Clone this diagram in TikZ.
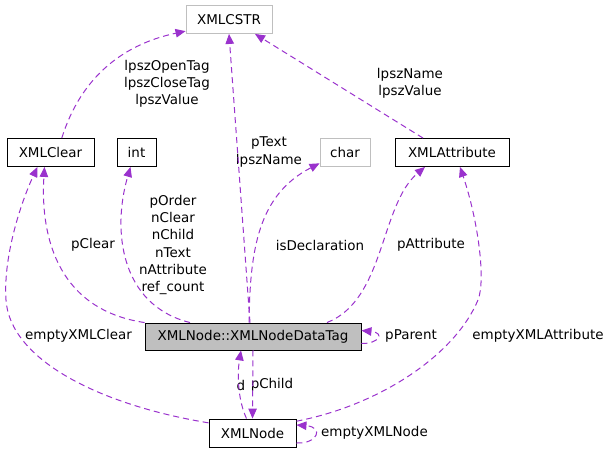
\documentclass[tikz,border=0pt]{standalone}
\usepackage{fontspec}
\setmainfont{DejaVu Sans}
\usepackage{tikz}
\usetikzlibrary{arrows.meta}
\definecolor{edgepurple}{RGB}{154,50,205}
\definecolor{boxgray}{RGB}{191,191,191}
\tikzset{
  classbox/.style={
    rectangle,
    draw=black,
    line width=0.9bp,
    fill=white,
    minimum height=28bp,
    inner sep=0pt,
    font=\fontsize{13.5pt}{17.3pt}\selectfont
  },
  extbox/.style={
    classbox,
    draw=boxgray
  },
  curbox/.style={
    classbox,
    fill=boxgray
  },
  lbl/.style={
    align=center,
    inner sep=0pt,
    font=\fontsize{13.5pt}{17.3pt}\selectfont
  },
  flow/.style={-{Triangle[length=10bp,width=8.5bp]}, edgepurple, line width=1bp, dash pattern=on 6bp off 4bp}
}

\begin{document}
\begin{tikzpicture}[x=1bp,y=-1bp]
\useasboundingbox (0,0) rectangle (613,453);
\node[extbox, minimum width=86bp] (cstr) at (229,19.5) {XMLCSTR};
\node[classbox, minimum width=87bp] (xclear) at (50.5,152.5) {XMLClear};
\node[classbox, minimum width=39bp] (int) at (136.5,152.5) {int};
\node[extbox, minimum width=50bp] (chr) at (345,152.5) {char};
\node[classbox, minimum width=114bp] (xattr) at (452,152.5) {XMLAttribute};
\node[curbox, minimum width=216bp, minimum height=27bp] (dtag) at (253,336.5) {XMLNode::XMLNodeDataTag};
\node[classbox, minimum width=87bp] (xnode) at (252.5,433) {XMLNode};
% labels
\node[lbl] (lopen) at (167,84) {lpszOpenTag\\lpszCloseTag\\lpszValue};
\node[lbl] (ltext) at (269,152) {pText\\lpszName};
\node[lbl] (lname) at (410,83.5) {lpszName\\lpszValue};
\node[lbl] (lclear) at (93,245) {pClear};
\node[lbl] (lcount) at (173,245) {pOrder\\nClear\\nChild\\nText\\nAttribute\\ref\_count};
\node[lbl] (ldecl) at (320,245) {isDeclaration};
\node[lbl] (lattr) at (431,245) {pAttribute};
\node[lbl] (lemptyclear) at (78.5,336) {emptyXMLClear};
\node[lbl] (lparent) at (411,336) {pParent};
\node[lbl] (lemptyattr) at (538,336) {emptyXMLAttribute};
\node[lbl] (ld) at (241,385) {d};
\node[lbl] (lchild) at (272,385) {pChild};
\node[lbl] (lemptynode) at (374.5,433) {emptyXMLNode};
% XMLCSTR
\draw[flow] (xclear.52) .. controls (80,80) and (120,45) .. (cstr.195);
\draw[flow] ([xshift=-3bp]dtag.north) -- (cstr.south);
\draw[flow] ([xshift=-29bp]xattr.north) -- ([xshift=26bp]cstr.south);
% XMLClear
\draw[flow] (dtag.north west) .. controls (60,310) and (40,240) .. ([xshift=-6bp]xclear.south);
\draw[flow] (xnode.167) .. controls (100,405) and (10,360) .. (6,300) .. controls (3,255) and (22,200) .. ([xshift=-13bp]xclear.south);
% int and char
\draw[flow] ([xshift=-63bp]dtag.north) .. controls (120,305) and (112,230) .. ([xshift=-6bp]int.south);
\draw[flow] ([xshift=-4bp]dtag.north) .. controls (250,250) and (258,195) .. (chr.203);
% XMLAttribute
\draw[flow] ([xshift=74bp]dtag.north) .. controls (385,300) and (380,205) .. ([xshift=-27bp]xattr.south);
\draw[flow] (xnode.15) .. controls (380,405) and (455,355) .. (478,300) .. controls (486,280) and (478,220) .. ([xshift=8bp]xattr.south);
% self loops
\draw[flow] ([yshift=-7bp]dtag.east) .. controls (378,344) and (386,333) .. ([yshift=6bp]dtag.east);
\draw[flow] ([yshift=-10bp]xnode.east) .. controls (318,444) and (324,427) .. ([yshift=8bp]xnode.east);
% XMLNode and its data tag
\draw[flow] ([xshift=-6bp]xnode.north) .. controls (238,400) and (237,375) .. ([xshift=-12bp]dtag.south);
\draw[flow] (dtag.south) -- (xnode.north);
\end{tikzpicture}
\end{document}
